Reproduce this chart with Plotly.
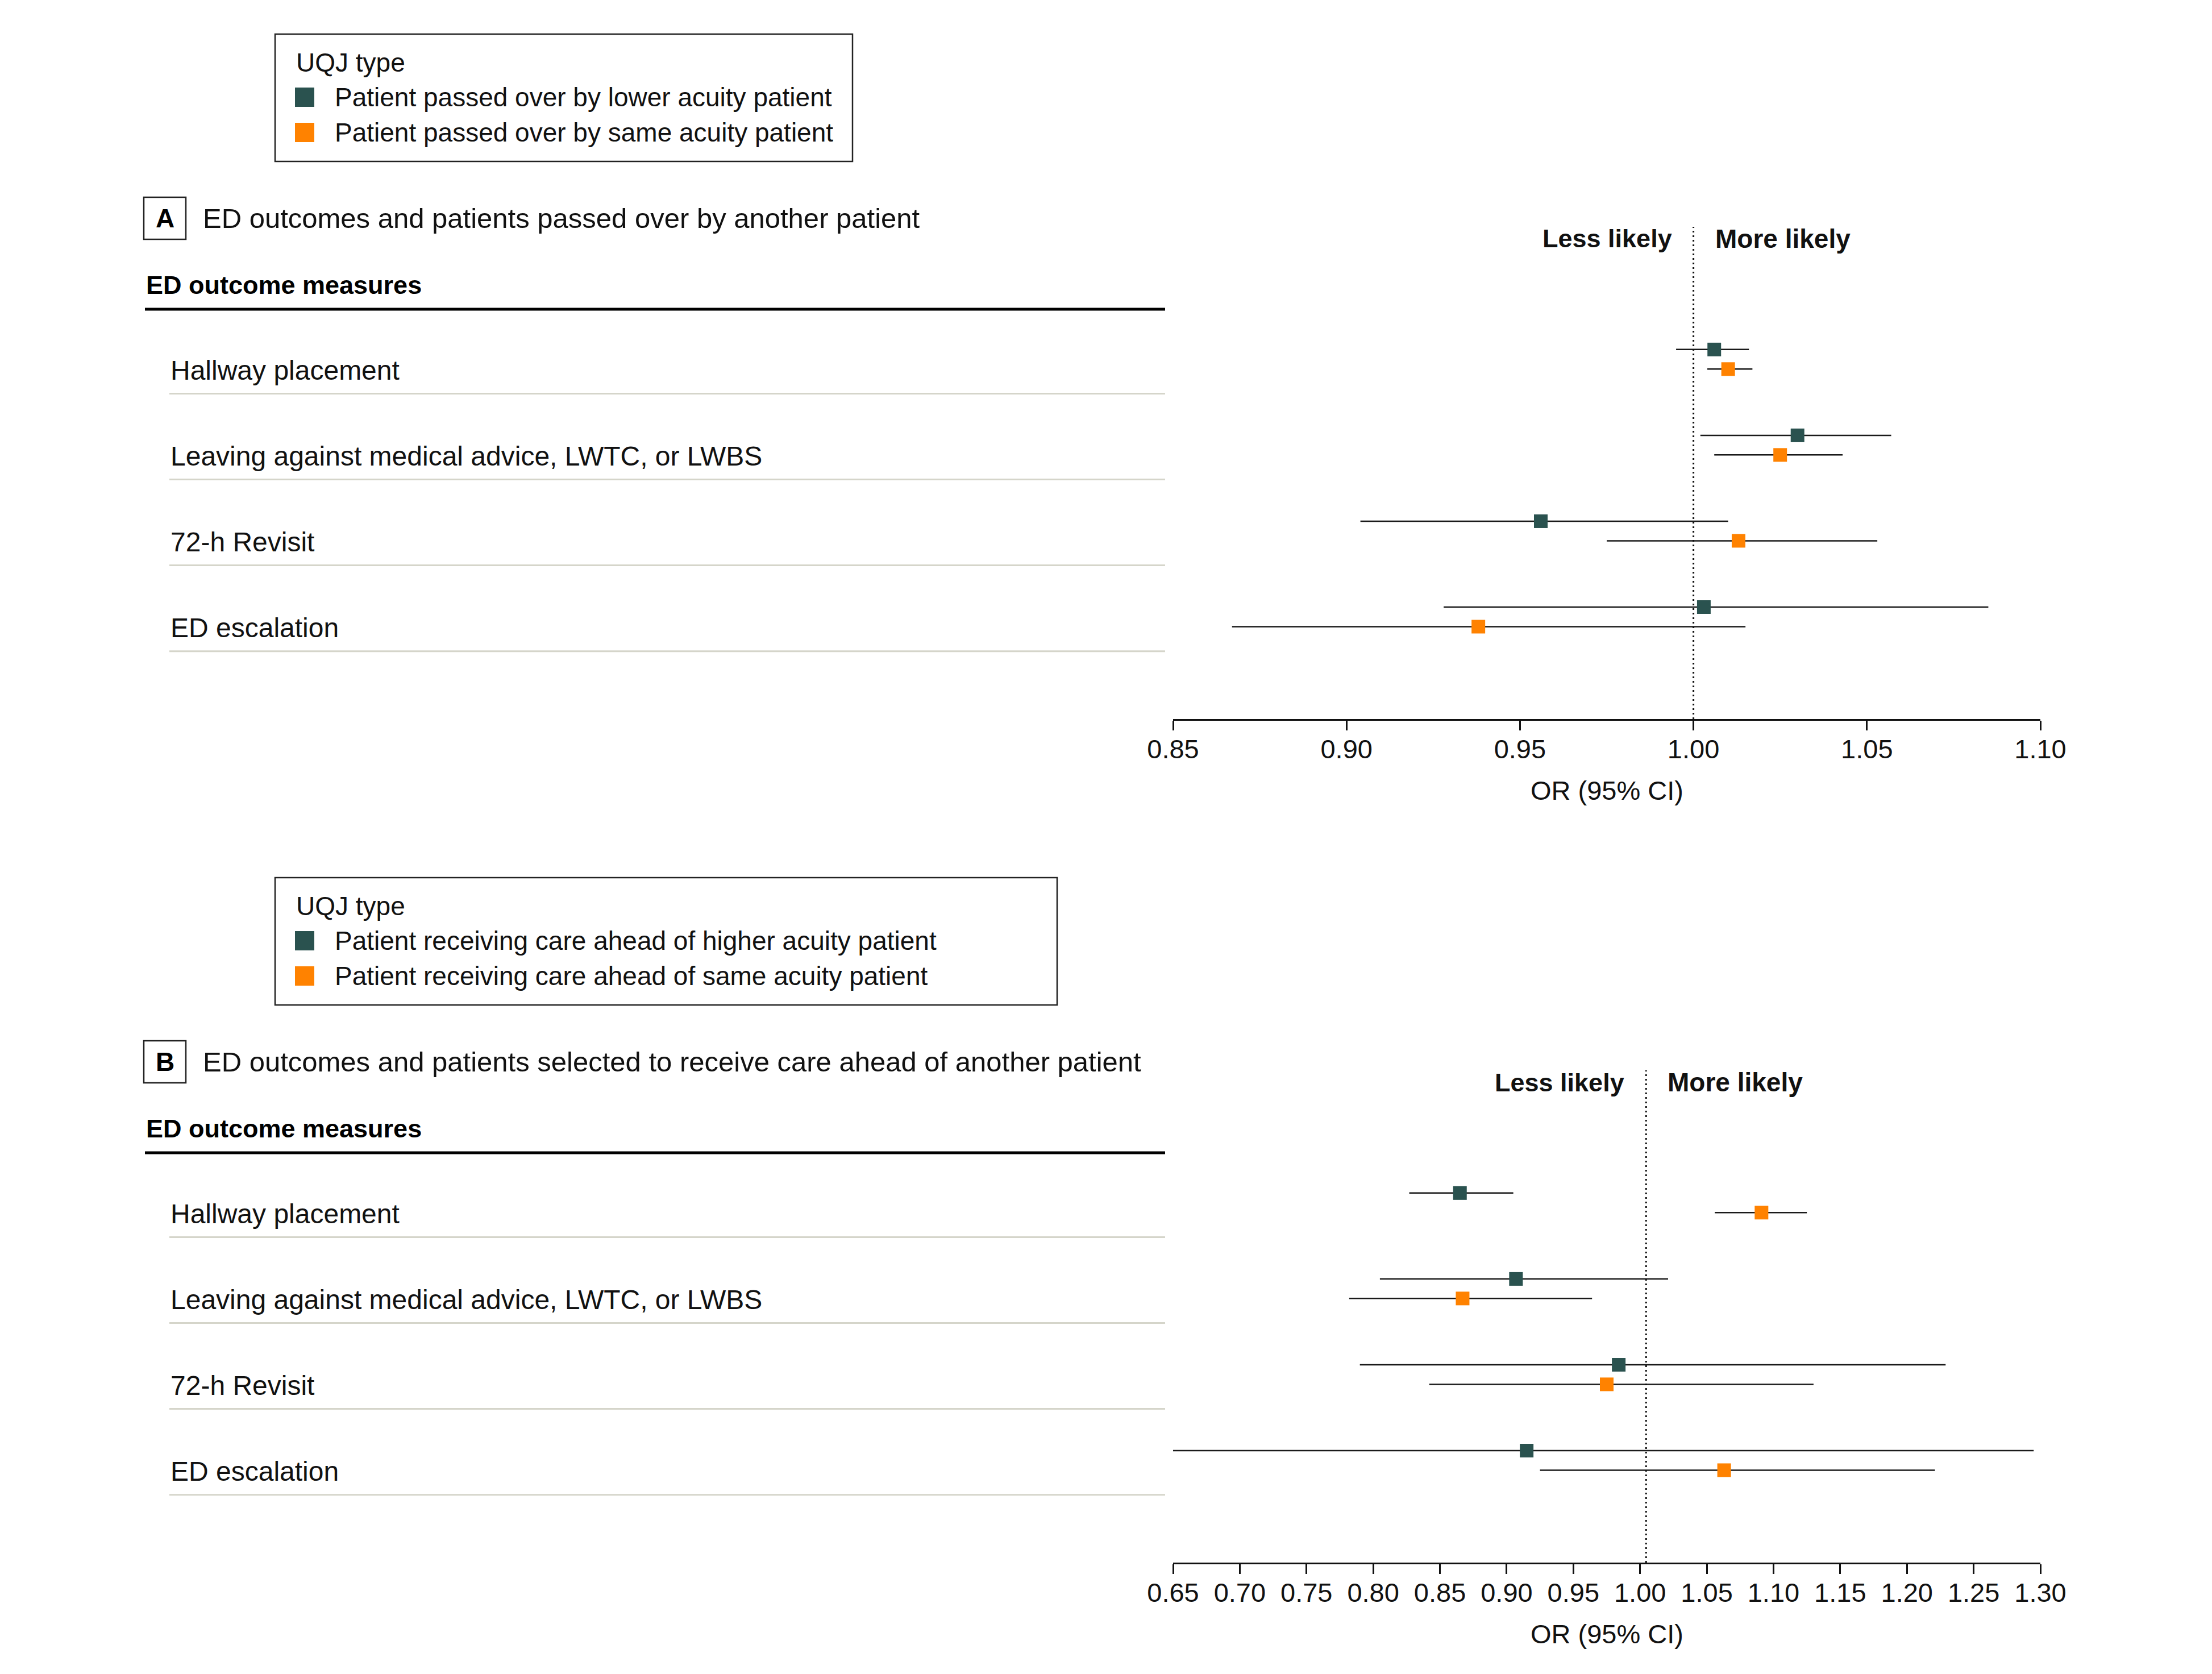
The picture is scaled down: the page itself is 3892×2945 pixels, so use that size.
import plotly.graph_objects as go

# ---------------- data ----------------
outcomes = [
    "Hallway placement",
    "Leaving against medical advice, LWTC, or LWBS",
    "72-h Revisit",
    "ED escalation",
]

# Panel A: patients passed over by another patient
a_names = ["Patient passed over by lower acuity patient",
           "Patient passed over by same acuity patient"]
a_lower_or = [1.006, 1.030, 0.956, 1.003]
a_lower_lo = [0.995, 1.002, 0.904, 0.928]
a_lower_hi = [1.016, 1.057, 1.010, 1.085]
a_same_or = [1.010, 1.025, 1.013, 0.938]
a_same_lo = [1.004, 1.006, 0.975, 0.867]
a_same_hi = [1.017, 1.043, 1.053, 1.015]
a_ticks = [0.85, 0.90, 0.95, 1.00, 1.05, 1.10]
a_ref = 1.00

# Panel B: patients selected to receive care ahead of another patient
b_names = ["Patient receiving care ahead of higher acuity patient",
           "Patient receiving care ahead of same acuity patient"]
b_higher_or = [0.865, 0.907, 0.984, 0.915]
b_higher_lo = [0.827, 0.805, 0.790, 0.650]
b_higher_hi = [0.905, 1.021, 1.229, 1.295]
b_same_or = [1.091, 0.867, 0.975, 1.063]
b_same_lo = [1.056, 0.782, 0.842, 0.925]
b_same_hi = [1.125, 0.964, 1.130, 1.221]
b_ticks = [0.65, 0.70, 0.75, 0.80, 0.85, 0.90, 0.95, 1.00, 1.05,
           1.10, 1.15, 1.20, 1.25, 1.30]
b_ref = 1.0045

legend_title = "UQJ type"
panel_titles = ["ED outcomes and patients passed over by another patient",
                "ED outcomes and patients selected to receive care ahead of another patient"]
panel_letters = ["A", "B"]

# ---------------- style ----------------
W, H = 3892, 2945
BODY = 8           # page body margin in the browser
FONT = "Liberation Sans, Arial, sans-serif"
GREEN = "#2a524f"
ORANGE = "#ff8200"
SEP = "#d5d5ca"
SHIFT = 1484       # vertical pixel offset of panel B vs panel A
OFF = 0.114        # series offset within a row (row units)
LEGEND_RIGHT = [1500, 1860]


def px(x):
    return (x - BODY) / W


def py(y):
    return 1 - (y - BODY) / H


fig = go.Figure()

panels = [
    dict(xa="x", ya="y", names=a_names,
         series=[(a_lower_or, a_lower_lo, a_lower_hi, GREEN),
                 (a_same_or, a_same_lo, a_same_hi, ORANGE)],
         ticks=a_ticks, ref=a_ref),
    dict(xa="x2", ya="y2", names=b_names,
         series=[(b_higher_or, b_higher_lo, b_higher_hi, GREEN),
                 (b_same_or, b_same_lo, b_same_hi, ORANGE)],
         ticks=b_ticks, ref=b_ref),
]

rows = list(range(len(outcomes)))
for p in panels:
    for k, (orv, lo, hi, col) in enumerate(p["series"]):
        off = -OFF if k == 0 else OFF
        fig.add_trace(go.Scatter(
            x=orv, y=[r + off for r in rows],
            mode="markers", name=p["names"][k], showlegend=False,
            marker=dict(symbol="square", size=24, color=col, line=dict(width=0)),
            error_x=dict(type="data", symmetric=False,
                         array=[h - o for h, o in zip(hi, orv)],
                         arrayminus=[o - l for o, l in zip(orv, lo)],
                         color="#1a1a1a", thickness=2.5, width=0),
            xaxis=p["xa"], yaxis=p["ya"],
            hovertemplate="%{x:.3f}<extra></extra>",
        ))

axis_common = dict(showline=True, linecolor="#111", linewidth=3,
                   ticks="outside", ticklen=17, tickwidth=3, tickcolor="#111",
                   ticklabelstandoff=-7,
                   tickformat=".2f", showgrid=False, zeroline=False,
                   tickfont=dict(size=47, color="#111", family=FONT))
yaxis_common = dict(visible=False, showgrid=False, zeroline=False)

layout_axes = {}
annotations = []
shapes = []
for i, p in enumerate(panels):
    s = SHIFT * i
    xname = "xaxis" if i == 0 else "xaxis2"
    yname = "yaxis" if i == 0 else "yaxis2"
    layout_axes[xname] = dict(axis_common, domain=[px(2064), px(3590)],
                              range=[p["ticks"][0], p["ticks"][-1]],
                              tickvals=p["ticks"], anchor=p["ya"])
    layout_axes[yname] = dict(yaxis_common, domain=[py(1265 + s), py(399 + s)],
                              range=[4.19, -1.543], anchor=p["xa"])

    # ---- legend box (UQJ type) ----
    shapes.append(dict(type="rect", xref="paper", yref="paper",
                       x0=px(484), x1=px(LEGEND_RIGHT[i]),
                       y0=py(60 + s), y1=py(284 + s),
                       line=dict(color="#222", width=2.5), fillcolor="white"))
    annotations.append(dict(text=legend_title, xref="paper", x=px(519),
                            xanchor="left", yref="paper", y=py(110 + s),
                            yanchor="middle", showarrow=False,
                            font=dict(size=46, family=FONT, color="#111")))
    for k, (_, _, _, col) in enumerate(p["series"]):
        yc = 171 + 62 * k + s
        shapes.append(dict(type="rect", xref="paper", yref="paper",
                           x0=px(519), x1=px(553), y0=py(yc - 17), y1=py(yc + 17),
                           line=dict(width=0), fillcolor=col))
        annotations.append(dict(text=p["names"][k], xref="paper", x=px(587),
                                xanchor="left", yref="paper", y=py(yc),
                                yanchor="middle", showarrow=False,
                                font=dict(size=46, family=FONT, color="#111")))

    # reference line
    shapes.append(dict(type="line", xref=p["xa"], x0=p["ref"], x1=p["ref"],
                       yref=p["ya"] + " domain", y0=0, y1=1,
                       line=dict(color="#111", width=3, dash="3px,5px")))
    # Less / More likely
    annotations.append(dict(text="<b>Less likely</b>", xref=p["xa"], x=p["ref"],
                            xshift=-36, xanchor="right", yref="paper",
                            y=py(420 + s), yanchor="middle", showarrow=False,
                            font=dict(size=45, family=FONT, color="#111")))
    annotations.append(dict(text="<b>More likely</b>", xref=p["xa"], x=p["ref"],
                            xshift=36, xanchor="left", yref="paper",
                            y=py(420 + s), yanchor="middle", showarrow=False,
                            font=dict(size=46, family=FONT, color="#111")))
    # axis title
    annotations.append(dict(text="OR (95% CI)", xref=p["xa"] + " domain", x=0.5,
                            xanchor="center", yref="paper", y=py(1390 + s),
                            yanchor="middle", showarrow=False,
                            font=dict(size=47, family=FONT, color="#111")))
    # panel letter box + title
    shapes.append(dict(type="rect", xref="paper", yref="paper",
                       x0=px(253), x1=px(327), y0=py(347 + s), y1=py(421 + s),
                       line=dict(color="#222", width=2.5), fillcolor="white"))
    annotations.append(dict(text="<b>%s</b>" % panel_letters[i], xref="paper",
                            x=px(290), xanchor="center", yref="paper",
                            y=py(384 + s), yanchor="middle", showarrow=False,
                            font=dict(size=46, family=FONT, color="#000")))
    annotations.append(dict(text=panel_titles[i], xref="paper", x=px(355),
                            xanchor="left", yref="paper", y=py(384 + s),
                            yanchor="middle", showarrow=False,
                            font=dict(size=49, family=FONT, color="#111")))
    # header
    annotations.append(dict(text="<b>ED outcome measures</b>", xref="paper",
                            x=px(255), xanchor="left", yref="paper",
                            y=py(501 + s), yanchor="middle", showarrow=False,
                            font=dict(size=45, family=FONT, color="#000")))
    shapes.append(dict(type="line", xref="paper", yref="paper",
                       x0=px(255), x1=px(2050), y0=py(544 + s), y1=py(544 + s),
                       line=dict(color="#000", width=5)))
    # row labels + separators
    for r, name in zip(rows, outcomes):
        annotations.append(dict(text=name, xref="paper", x=px(298),
                                xanchor="left", yref=p["ya"], y=r + 0.13,
                                yanchor="middle", showarrow=False,
                                font=dict(size=48, family=FONT, color="#111")))
        shapes.append(dict(type="line", xref="paper", x0=px(298), x1=px(2050),
                           yref=p["ya"], y0=r + 0.40, y1=r + 0.40,
                           line=dict(color=SEP, width=3)))

fig.update_layout(
    width=W, height=H,
    margin=dict(l=0, r=0, t=0, b=0, pad=0, autoexpand=False),
    paper_bgcolor="white", plot_bgcolor="white",
    font=dict(family=FONT, color="#111", size=46),
    showlegend=False,
    annotations=annotations,
    shapes=shapes,
    **layout_axes,
)

fig.write_html("out.html")
